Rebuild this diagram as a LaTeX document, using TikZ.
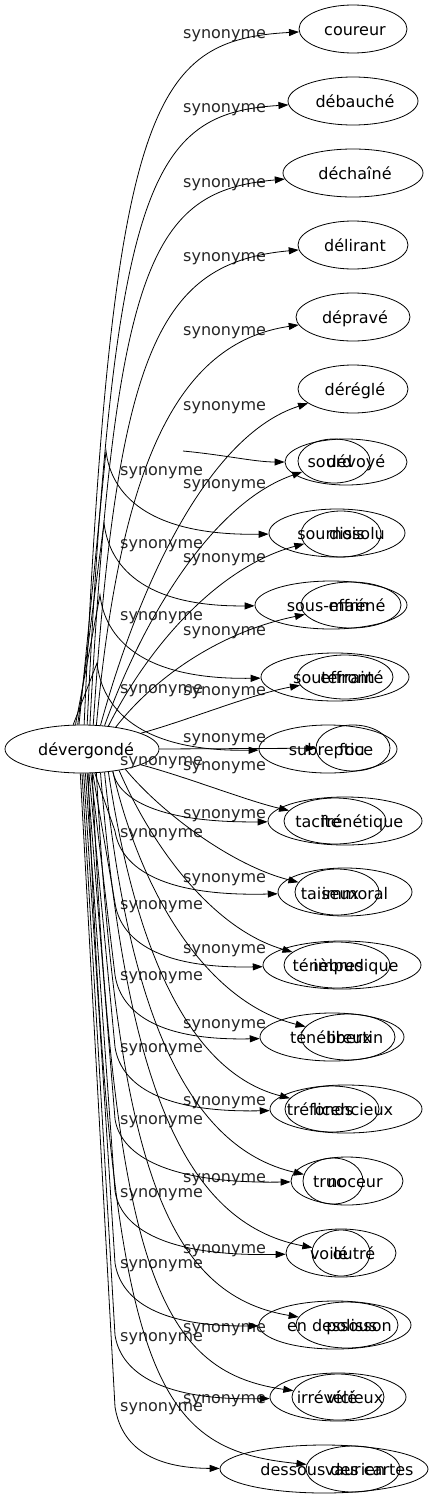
\documentclass[tikz,border=0pt]{standalone}
\usepackage{fontspec}
\setmainfont{DejaVu Sans}
\usetikzlibrary{arrows.meta,shapes.geometric,calc}
\tikzset{
  ell/.style={draw, ellipse, inner sep=0pt, line width=0.8pt},
  word/.style={font=\fontsize{16}{19}\selectfont, inner sep=0pt, anchor=base},
  lab/.style={font=\fontsize{16}{19}\selectfont, inner sep=0pt, anchor=base west, text=black!85},
  conn/.style={line width=0.8pt, -{Triangle[length=10pt,width=7pt]}},
}
% start anchor, target node, tip x, tip y, a, b, c, d
\newcommand\crv[8]{\draw[conn] let \p1=(#1) in (#1) .. controls ({\x1+#5*(#3pt-\x1)},{\y1+#6*(-#4pt-\y1)}) and ({\x1+#7*(#3pt-\x1)},{-#4pt-#8*(-#4pt-\y1)}) .. (#2);}
% start anchor, kink x, kink y, target node, tip x, tip y
\newcommand\lcrv[6]{\draw[conn] (#1) -- (#2,#3) .. controls ({#2+5},{#3+0.5*(#6-#3)}) and ({#2+0.25*(#5-#2)},#6) .. (#4);}
\begin{document}
\begin{tikzpicture}[x=1pt,y=-1pt]
\useasboundingbox (0,0) rectangle (429,1499);
% source
\node[ell, minimum width=154pt, minimum height=48pt] (dev) at (82,749) {};
\node[word] (devt) at (86,755) {dévergondé};
% rows 1-6
\node[ell, minimum width=108pt, minimum height=48pt] (n1) at (353,29) {};
\node[word] (t1) at (355,35) {coureur};
\node[ell, minimum width=130pt, minimum height=48pt] (n2) at (353,101) {};
\node[word] (t2) at (355,107) {débauché};
\node[ell, minimum width=140pt, minimum height=48pt] (n3) at (353,173) {};
\node[word] (t3) at (355,179) {déchaîné};
\node[ell, minimum width=110pt, minimum height=48pt] (n4) at (353,245) {};
\node[word] (t4) at (355,251) {délirant};
\node[ell, minimum width=114pt, minimum height=48pt] (n5) at (353,317) {};
\node[word] (t5) at (355,323) {dépravé};
\node[ell, minimum width=110pt, minimum height=48pt] (n6) at (353,389) {};
\node[word] (t6) at (355,395) {déréglé};
% rows 7-21 (two overlapping nodes each)
\node[ell, minimum width=122pt, minimum height=46pt] (b7) at (346,462) {};
\node[ell, minimum width=72pt, minimum height=44pt] (s7) at (334,461) {};
\node[word] (tb7) at (330,467) {sourd};
\node[word] (ta7) at (356,467) {dévoyé};
\node[ell, minimum width=136pt, minimum height=48pt] (b8) at (337,533) {};
\node[ell, minimum width=80pt, minimum height=46pt] (s8) at (341,534) {};
\node[word] (tb8) at (331,539) {sournois};
\node[word] (ta8) at (357,539) {dissolu};
\node[ell, minimum width=152pt, minimum height=48pt] (b9) at (331,605) {};
\node[ell, minimum width=100pt, minimum height=46pt] (s9) at (351,605) {};
\node[word] (tb9) at (328,611) {sous-main};
\node[word] (ta9) at (357,611) {effréné};
\node[ell, minimum width=148pt, minimum height=48pt] (b10) at (335,677) {};
\node[ell, minimum width=96pt, minimum height=44pt] (s10) at (345,677) {};
\node[word] (tb10) at (334,683) {souterrain};
\node[word] (ta10) at (352,683) {effronté};
\node[ell, minimum width=138pt, minimum height=48pt] (b11) at (328,749) {};
\node[ell, minimum width=74pt, minimum height=46pt] (s11) at (353,748) {};
\node[word] (tb11) at (331,755) {subreptice};
\node[word] (ta11) at (352,755) {fou};
\node[ell, minimum width=154pt, minimum height=48pt] (b12) at (345,821) {};
\node[ell, minimum width=102pt, minimum height=46pt] (s12) at (335,821) {};
\node[word] (tb12) at (318,827) {tacite};
\node[word] (ta12) at (362,827) {frénétique};
\node[ell, minimum width=134pt, minimum height=48pt] (b13) at (345,892) {};
\node[ell, minimum width=84pt, minimum height=46pt] (s13) at (337,892) {};
\node[word] (tb13) at (330,899) {taiseux};
\node[word] (ta13) at (355,899) {immoral};
\node[ell, minimum width=158pt, minimum height=48pt] (b14) at (342,965) {};
\node[ell, minimum width=106pt, minimum height=46pt] (s14) at (337,965) {};
\node[word] (tb14) at (328,971) {ténèbres};
\node[word] (ta14) at (356,971) {impudique};
\node[ell, minimum width=144pt, minimum height=48pt] (b15) at (332,1037) {};
\node[ell, minimum width=94pt, minimum height=46pt] (s15) at (348,1037) {};
\node[word] (tb15) at (331,1043) {ténébreux};
\node[word] (ta15) at (355,1043) {libertin};
\node[ell, minimum width=152pt, minimum height=48pt] (b16) at (346,1109) {};
\node[ell, minimum width=94pt, minimum height=46pt] (s16) at (332,1109) {};
\node[word] (tb16) at (320,1115) {tréfonds};
\node[word] (ta16) at (353,1115) {licencieux};
\node[ell, minimum width=112pt, minimum height=48pt] (b17) at (347,1181) {};
\node[ell, minimum width=60pt, minimum height=46pt] (s17) at (333,1181) {};
\node[word] (tb17) at (329,1187) {truc};
\node[word] (ta17) at (355,1187) {noceur};
\node[ell, minimum width=110pt, minimum height=48pt] (b18) at (341,1253) {};
\node[ell, minimum width=58pt, minimum height=46pt] (s18) at (341,1253) {};
\node[word] (tb18) at (329,1259) {voilé};
\node[word] (ta18) at (354,1259) {outré};
\node[ell, minimum width=152pt, minimum height=48pt] (b19) at (335,1325) {};
\node[ell, minimum width=102pt, minimum height=46pt] (s19) at (347,1325) {};
\node[word] (tb19) at (332,1331) {en dessous};
\node[word] (ta19) at (359,1331) {polisson};
\node[ell, minimum width=136pt, minimum height=48pt] (b20) at (338,1397) {};
\node[ell, minimum width=92pt, minimum height=46pt] (s20) at (338,1397) {};
\node[word] (tb20) at (327,1403) {irrévélé};
\node[word] (ta20) at (355,1403) {vicieux};
\node[ell, minimum width=208pt, minimum height=48pt] (b21) at (324,1469) {};
\node[ell, minimum width=94pt, minimum height=46pt] (s21) at (353,1469) {};
\node[word] (tb21) at (337,1475) {dessous des cartes};
\node[word] (ta21) at (355,1475) {vaurien};
% labels
\foreach \yy [count=\i] in {33,107,182,256,330,405,483,557,630,690,737,765,813,877,948,1023,1100,1177,1248,1327,1398}
  \node[lab] (r\i) at (183,\yy+5) {synonyme};
\foreach \yy [count=\i] in {470,543,615,688,760,832,904,975,1047,1119,1192,1263,1336,1406}
  \node[lab] (l\i) at (120,\yy+5) {synonyme};
% connectors going up
\crv{dev.85}{n1}{298}{33}{.13}{.9}{.32}{.01}
\crv{dev.78}{n2}{288}{107}{.13}{.88}{.32}{.01}
\crv{dev.72}{n3}{283}{180}{.13}{.85}{.32}{.02}
\crv{dev.65}{n4}{297}{253}{.12}{.8}{.33}{.02}
\crv{dev.59}{n5}{296}{327}{.12}{.65}{.4}{.04}
\crv{dev.52}{n6}{300}{402}{.2}{.45}{.55}{.1}
\crv{dev.46}{s7}{305}{477}{.2}{.45}{.55}{.1}
\crv{dev.41}{s8}{308}{549}{.2}{.45}{.55}{.1}
\crv{dev.33}{s9}{300}{622}{.2}{.45}{.55}{.1}
\crv{dev.15}{s10}{298}{690}{.3}{.3}{.7}{.1}
% straight
\draw[conn] (dev.east) -- (s11);
% going down
\crv{dev.-15}{s12}{293}{805}{.3}{.3}{.7}{.1}
\crv{dev.-25}{s13}{302}{876}{.2}{.4}{.6}{.1}
\crv{dev.-30}{s14}{292}{947}{.2}{.45}{.55}{.1}
\crv{dev.-36}{s15}{305}{1023}{.15}{.5}{.5}{.08}
\crv{dev.-41}{s16}{287}{1095}{.15}{.55}{.45}{.07}
\crv{dev.-46}{s17}{303}{1172}{.12}{.6}{.42}{.06}
\crv{dev.-52}{s18}{307}{1247}{.12}{.65}{.4}{.05}
\crv{dev.-59}{s19}{298}{1317}{.1}{.72}{.35}{.04}
\crv{dev.-67}{s20}{297}{1390}{.1}{.8}{.32}{.03}
\crv{dev.-76}{s21}{303}{1463}{.1}{.88}{.3}{.02}
% kinked connectors
\coordinate (f7) at (183,451);
\draw[conn] (f7) .. controls (225,455) and (255,462) .. (b7);
\lcrv{dev.97}{106}{451}{b8}{270}{536}
\lcrv{dev.100}{104}{523}{b9}{255}{607}
\lcrv{dev.105}{100}{595}{b10}{262}{680}
\lcrv{dev.110}{97}{663}{b11}{259}{752}
\draw[conn] (dev.-36) .. controls (117,795) and (150,823) .. (b12);
\lcrv{dev.-62}{115}{831}{b13}{277}{897}
\lcrv{dev.-66}{115}{903}{b14}{263}{969}
\lcrv{dev.-70}{115}{975}{b15}{259}{1041}
\lcrv{dev.-74}{115}{1047}{b16}{269}{1113}
\lcrv{dev.-78}{115}{1119}{b17}{292}{1184}
\lcrv{dev.-82}{115}{1191}{b18}{285}{1257}
\lcrv{dev.-86}{115}{1263}{b19}{257}{1327}
\lcrv{dev.-90}{115}{1335}{b20}{270}{1401}
\lcrv{dev.-94}{115}{1407}{b21}{218}{1468}
\end{tikzpicture}
\end{document}
